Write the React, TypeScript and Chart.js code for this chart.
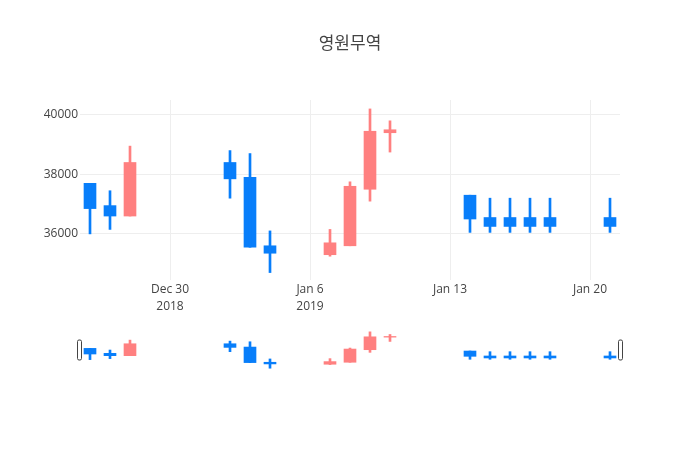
import React, { useEffect, useRef } from "react";
import { Chart, registerables } from "chart.js";

Chart.register(...registerables);

const TITLE = "영원무역";
const dates = [
  "2018-12-26", "2018-12-27", "2018-12-28", "2019-01-02", "2019-01-03", "2019-01-04",
  "2019-01-07", "2019-01-08", "2019-01-09", "2019-01-10", "2019-01-14", "2019-01-15",
  "2019-01-16", "2019-01-17", "2019-01-18", "2019-01-21",
];
const openVals = [37700, 36950, 36600, 38400, 37900, 35600, 35300, 35600, 37500, 39400, 37300, 36550, 36550, 36550, 36550, 36550];
const highVals = [37700, 37450, 38950, 38800, 38700, 36100, 36150, 37750, 40200, 39800, 37300, 37200, 37200, 37200, 37200, 37200];
const lowVals = [36000, 36150, 36600, 37200, 35550, 34700, 35250, 35600, 37100, 38750, 36050, 36050, 36050, 36050, 36050, 36050];
const closeVals = [36850, 36600, 38400, 37850, 35550, 35350, 35700, 37600, 39450, 39500, 36500, 36250, 36250, 36250, 36250, 36250];

const xTickDates = ["2018-12-30", "2019-01-06", "2019-01-13", "2019-01-20"];
const xTickLabels = [["Dec 30", "2018"], ["Jan 6", "2019"], ["Jan 13"], ["Jan 20"]];
const xRange = ["2018-12-25T12:00:00Z", "2019-01-21T12:00:00Z"];
const yTicks = [36000, 38000, 40000];
const yRange = [34450, 40500];
const sliderYRange = [34430, 40480];

const UP = "rgb(255,128,128)";
const DOWN = "rgb(8,126,250)";
const FONT = '"Open Sans", "Noto Sans CJK KR", sans-serif';

const ORIGIN = Date.parse("2018-12-30T00:00:00Z");
const toDay = (d: string) => (Date.parse(d.length === 10 ? d + "T00:00:00Z" : d) - ORIGIN) / 86400000;

function buildDatasets() {
  const colors = dates.map((_, i) => (closeVals[i] >= openVals[i] ? UP : DOWN));
  const wick = dates.map((d, i) => ({ x: toDay(d), y: [lowVals[i], highVals[i]] }));
  const body = dates.map((d, i) => ({ x: toDay(d), y: [openVals[i], closeVals[i]] }));
  return [
    {
      data: wick,
      backgroundColor: colors,
      barThickness: 2,
      grouped: false,
      borderWidth: 0,
      borderSkipped: false,
    },
    {
      data: body,
      backgroundColor: colors,
      barThickness: 12,
      grouped: false,
      borderWidth: 0,
      borderSkipped: false,
    },
  ] as any;
}

const titlePlugin = {
  id: "titleText",
  afterDraw(chart: any) {
    const ctx = chart.ctx;
    ctx.save();
    ctx.font = `17px ${FONT}`;
    ctx.fillStyle = "#444";
    ctx.textAlign = "center";
    ctx.textBaseline = "middle";
    ctx.fillText(TITLE, 350, 44);
    ctx.restore();
  },
};

const handlePlugin = {
  id: "handles",
  afterDraw(chart: any) {
    const { ctx, chartArea } = chart;
    const h = (chartArea.bottom - chartArea.top) / 2;
    const top = chartArea.top + h / 2;
    const drawHandle = (x: number) => {
      ctx.save();
      ctx.beginPath();
      if (ctx.roundRect) ctx.roundRect(x, top, 4, h, 1.5);
      else ctx.rect(x, top, 4, h);
      ctx.fillStyle = "#fff";
      ctx.fill();
      ctx.strokeStyle = "#444";
      ctx.lineWidth = 1;
      ctx.stroke();
      ctx.restore();
    };
    drawHandle(Math.round(chartArea.left) - 2.5);
    drawHandle(Math.round(chartArea.right) - 1.5);
  },
};

export default function App() {
  const mainRef = useRef<HTMLCanvasElement>(null);
  const sliderRef = useRef<HTMLCanvasElement>(null);

  useEffect(() => {
    const xMin = toDay(xRange[0]);
    const xMax = toDay(xRange[1]);
    const main = new Chart(mainRef.current as HTMLCanvasElement, {
      type: "bar",
      data: { datasets: buildDatasets() },
      options: {
        animation: false,
        responsive: false,
        events: [],
        layout: { padding: { top: 100, left: 0, right: 80, bottom: 0 } },
        plugins: { legend: { display: false }, tooltip: { enabled: false }, title: { display: false } },
        scales: {
          x: {
            type: "linear",
            min: xMin,
            max: xMax,
            offset: false,
            grid: { color: "#eee", drawTicks: false, offset: false, lineWidth: 1 },
            border: { display: false },
            afterBuildTicks: (s: any) => {
              s.ticks = xTickDates.map((d) => ({ value: toDay(d) }));
            },
            afterFit: (s: any) => {
              s.height = 170;
            },
            ticks: {
              padding: 2,
              maxRotation: 0,
              autoSkip: false,
              color: "#444",
              font: { family: FONT, size: 12, lineHeight: 1.34 },
              callback: (v: any) => {
                const i = xTickDates.findIndex((d) => Math.abs(toDay(d) - Number(v)) < 1e-6);
                return i >= 0 ? xTickLabels[i] : "";
              },
            },
          },
          y: {
            type: "linear",
            min: yRange[0],
            max: yRange[1],
            beginAtZero: false,
            grid: { color: "#eee", drawTicks: false, lineWidth: 1 },
            border: { display: false },
            afterBuildTicks: (s: any) => {
              s.ticks = yTicks.map((v) => ({ value: v }));
            },
            afterFit: (s: any) => {
              s.width = 80;
            },
            ticks: {
              padding: 2,
              color: "#444",
              font: { family: FONT, size: 12 },
              callback: (v: any) => String(v),
            },
          },
        },
      } as any,
      plugins: [titlePlugin],
    });

    const slider = new Chart(sliderRef.current as HTMLCanvasElement, {
      type: "bar",
      data: { datasets: buildDatasets() },
      options: {
        animation: false,
        responsive: false,
        events: [],
        layout: { padding: { top: 330, left: 80, right: 80, bottom: 80 } },
        plugins: { legend: { display: false }, tooltip: { enabled: false }, title: { display: false } },
        scales: {
          x: { type: "linear", min: xMin, max: xMax, offset: false, display: false, grid: { offset: false } },
          y: { type: "linear", min: sliderYRange[0], max: sliderYRange[1], beginAtZero: false, display: false },
        },
      } as any,
      plugins: [handlePlugin],
    });

    return () => {
      main.destroy();
      slider.destroy();
    };
  }, []);

  return (
    <div style={{ position: "fixed", left: 0, top: 0, width: 700, height: 450, background: "#fff" }}>
      <canvas ref={mainRef} width={700} height={450} style={{ position: "absolute", left: 0, top: 0, width: 700, height: 450 }} />
      <canvas ref={sliderRef} width={700} height={450} style={{ position: "absolute", left: 0, top: 0, width: 700, height: 450, pointerEvents: "none" }} />
    </div>
  );
}
